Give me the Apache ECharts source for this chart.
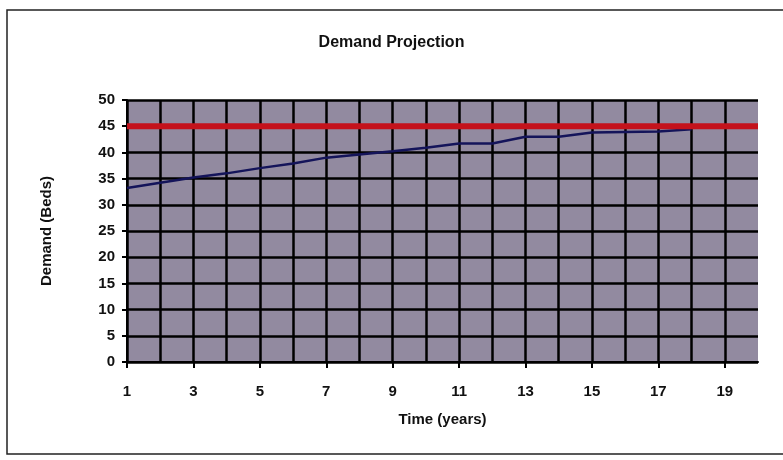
<!DOCTYPE html>
<html>
<head>
<meta charset="utf-8">
<script src="https://cdn.jsdelivr.net/npm/echarts@6/dist/echarts.min.js"></script>
<style>
html,body{margin:0;padding:0;background:#fff;}
#c{width:783px;height:460px;}
</style>
</head>
<body>
<div id="c"></div>
<script>
const years = [1,2,3,4,5,6,7,8,9,10,11,12,13,14,15,16,17,18,19,20];
const demand = [33.2,34.2,35.2,36,37,37.9,39,39.6,40.2,40.9,41.7,41.7,43,43,43.8,43.9,44,44.4];
const capacity = [45,45,45,45,45,45,45,45,45,45,45,45,45,45,45,45,45,45,45,45];
const yTicks = [0,5,10,15,20,25,30,35,40,45,50];

const chart = echarts.init(document.getElementById('c'), null, {renderer:'canvas'});
const font = 'Liberation Sans, Arial, sans-serif';
chart.setOption({
  backgroundColor:'#ffffff',
  animation:false,
  graphic:[{type:'rect',shape:{x:7,y:10,width:800,height:444},style:{fill:'none',stroke:'#222',lineWidth:1.5},silent:true}],
  title:{text:'Demand Projection',left:'center',top:30,textStyle:{fontFamily:font,fontWeight:'bold',fontSize:16,color:'#111'}},
  grid:{left:127,right:25,top:100,bottom:98},
  xAxis:{
    type:'category',boundaryGap:false,data:years.map(String),
    name:'Time (years)',nameLocation:'middle',nameGap:50,
    nameTextStyle:{fontFamily:font,fontWeight:'bold',fontSize:15,color:'#111'},
    axisLine:{lineStyle:{color:'#000',width:2}},
    axisTick:{show:true,interval:1,length:6,lineStyle:{color:'#000',width:2}},
    axisLabel:{interval:1,margin:22,fontFamily:font,fontWeight:'bold',fontSize:15,color:'#111'},
    splitLine:{show:true,interval:(i)=>i<years.length-1,lineStyle:{color:'#000',width:2.5}}
  },
  yAxis:{
    type:'value',min:0,max:50,interval:5,
    name:'Demand (Beds)',nameLocation:'middle',nameGap:73,nameRotate:90,
    nameTextStyle:{fontFamily:font,fontWeight:'bold',fontSize:15,color:'#111'},
    axisLine:{show:true,lineStyle:{color:'#000',width:2}},
    axisTick:{show:true,length:5,lineStyle:{color:'#000',width:2}},
    axisLabel:{margin:12,fontFamily:font,fontWeight:'bold',fontSize:15,color:'#111',
      formatter:v=>yTicks.includes(v)?String(v):''},
    splitLine:{show:true,lineStyle:{color:'#000',width:2.5}},
    splitArea:{show:true,areaStyle:{color:['#928aa0','#928aa0']}}
  },
  series:[
    {type:'line',data:capacity,symbol:'none',lineStyle:{color:'#c4121c',width:6},z:3},
    {type:'line',data:demand,symbol:'none',lineStyle:{color:'#14145a',width:2.5},z:2}
  ]
});
</script>
</body>
</html>
